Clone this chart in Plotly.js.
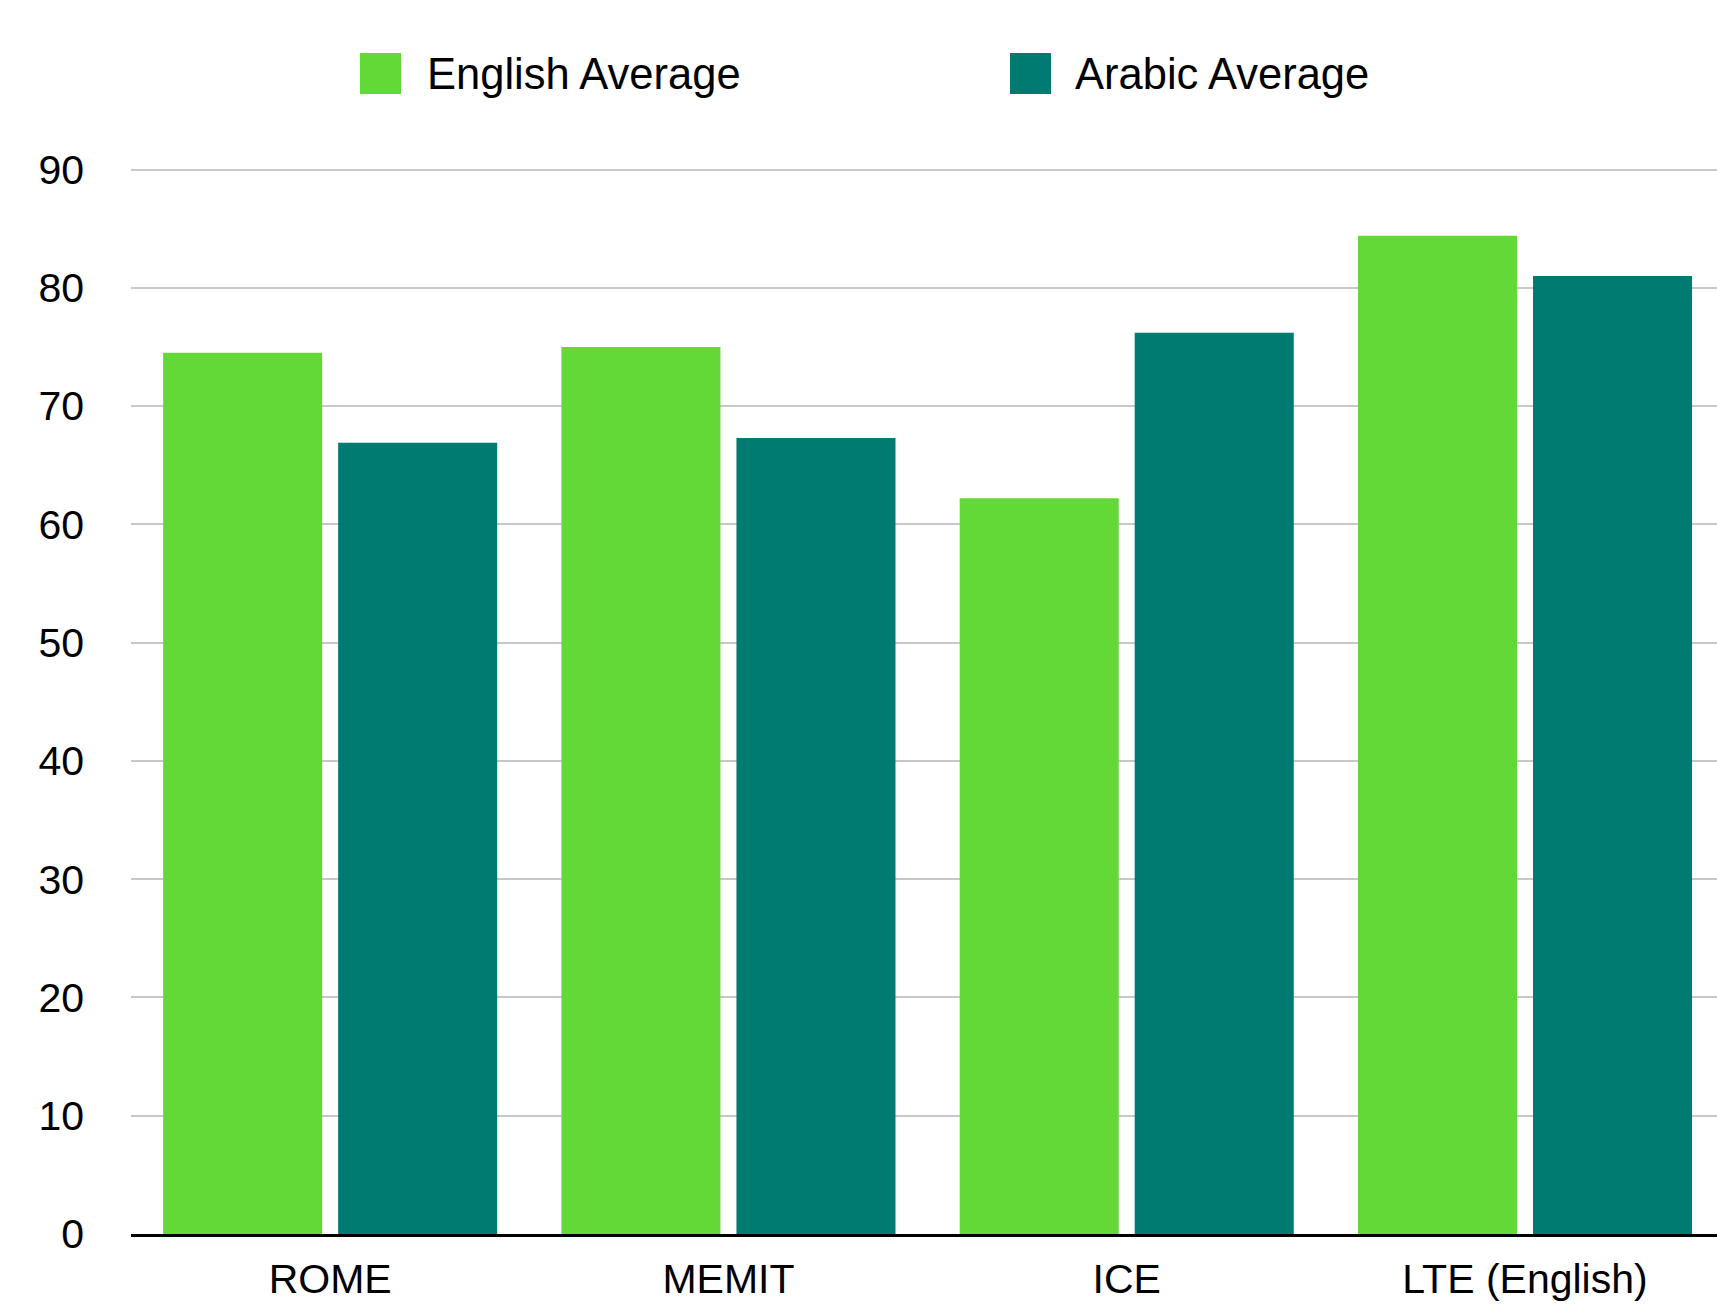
<!DOCTYPE html>
<html>
<head>
<meta charset="utf-8">
<script src="https://cdn.plot.ly/plotly-3.0.1.min.js"></script>
<style>
  html, body { margin: 0; padding: 0; background: #ffffff; }
  #chart { width: 1717px; height: 1305px; }
</style>
</head>
<body>
<div id="chart"></div>
<script>
// ---- data ----
const categories = ["ROME", "MEMIT", "ICE", "LTE (English)"];
const seriesNames = ["English Average", "Arabic Average"];
const englishAvg = [74.5, 75.0, 62.2, 84.4];
const arabicAvg = [66.9, 67.3, 76.2, 81.0];
const yTicks = [0, 10, 20, 30, 40, 50, 60, 70, 80, 90];

// ---- style ----
const colors = ["#63D937", "#007B72"];
const W = 1717, H = 1305;
const M = { l: 131, r: 0, t: 166, b: 71 };
const FONT = "Liberation Sans, Arial, Helvetica, sans-serif";
const plotW = W - M.l - M.r, plotH = H - M.t - M.b;
const px2x = (px) => (px - M.l) / plotW;
const py2y = (py) => (H - M.b - py) / plotH;

const traces = [
  { type: "bar", name: seriesNames[0], x: categories, y: englishAvg,
    marker: { color: colors[0] }, hoverinfo: "x+y+name" },
  { type: "bar", name: seriesNames[1], x: categories, y: arabicAvg,
    marker: { color: colors[1] }, hoverinfo: "x+y+name" }
];

// legend drawn as shapes + annotations (large swatches like the reference)
const legendSwatchX = [360, 1010];
const legendTextX = [425, 1073];
const legendCY = 73.5;
const sw = 41;
const shapes = [], annotations = [];
seriesNames.forEach((n, i) => {
  shapes.push({ type: "rect", xref: "paper", yref: "paper",
    x0: px2x(legendSwatchX[i]), x1: px2x(legendSwatchX[i] + sw),
    y0: py2y(legendCY + sw / 2), y1: py2y(legendCY - sw / 2),
    fillcolor: colors[i], line: { width: 0 } });
  annotations.push({ xref: "paper", yref: "paper",
    x: px2x(legendTextX[i]), y: py2y(legendCY + 1), xanchor: "left", yanchor: "middle",
    text: n, showarrow: false, font: { family: FONT, size: 43.5, color: "#000" } });
});

const layout = {
  width: W, height: H,
  margin: M,
  paper_bgcolor: "#ffffff", plot_bgcolor: "#ffffff",
  font: { family: FONT, size: 41, color: "#000000" },
  showlegend: false,
  barmode: "group", bargap: 0.121, bargroupgap: 0.0914,
  xaxis: {
    type: "category", range: [-0.5, 3.482],
    showgrid: false, zeroline: false,
    showline: true, linecolor: "#000000", linewidth: 3,
    ticks: "", ticklabelstandoff: 7,
    tickfont: { family: FONT, size: 41, color: "#000" }
  },
  yaxis: {
    range: [0, 90.3], tickvals: yTicks, ticktext: yTicks.map(String),
    showgrid: true, gridcolor: "#c8c8c8", gridwidth: 2,
    zeroline: false, showline: false, ticks: "",
    ticklabelstandoff: 46,
    tickfont: { family: FONT, size: 41, color: "#000" }
  },
  shapes: shapes,
  annotations: annotations
};

Plotly.newPlot("chart", traces, layout, { displayModeBar: false, responsive: false });
</script>
</body>
</html>
